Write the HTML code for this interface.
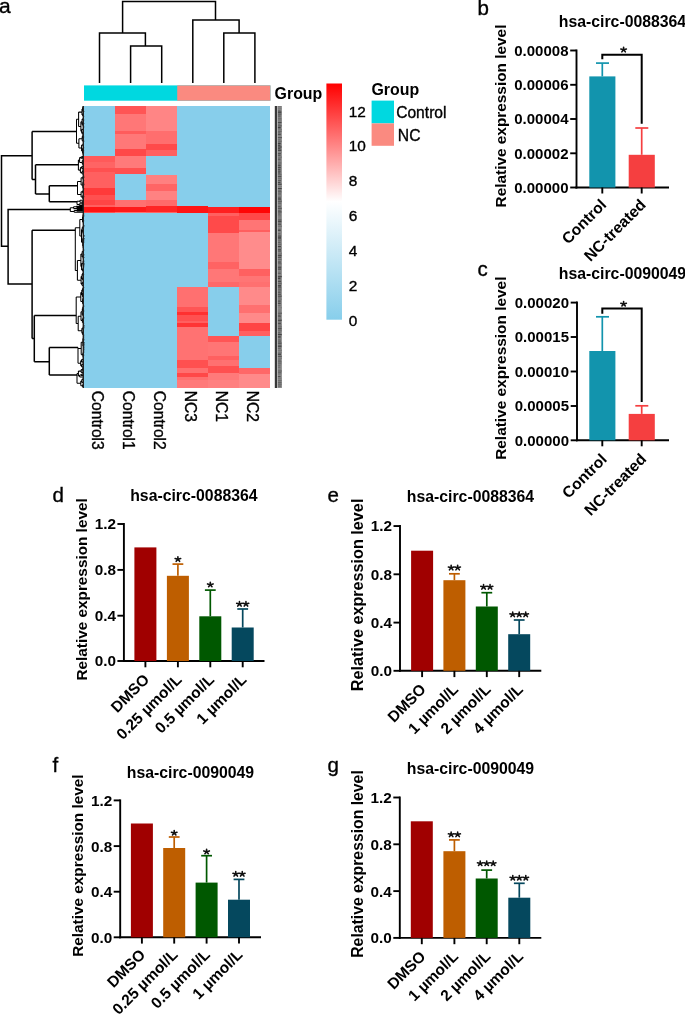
<!DOCTYPE html>
<html><head><meta charset="utf-8"><style>html,body{margin:0;padding:0;background:#fff;width:685px;height:1014px;overflow:hidden}svg{display:block;will-change:transform}svg text{font-family:"Liberation Sans", sans-serif}</style></head>
<body><svg width="685" height="1014" viewBox="0 0 685 1014">
<rect width="685" height="1014" fill="#fff"/>
<line x1="123.90" y1="523.00" x2="123.90" y2="662.00" stroke="#000" stroke-width="1.9" stroke-linecap="butt"/>
<line x1="122.90" y1="661.00" x2="264.50" y2="661.00" stroke="#000" stroke-width="1.9" stroke-linecap="butt"/>
<line x1="117.40" y1="524.00" x2="123.90" y2="524.00" stroke="#000" stroke-width="1.9" stroke-linecap="butt"/>
<text x="115.90" y="529.40" font-size="15.3" font-weight="bold" text-anchor="end" fill="#000">1.2</text>
<line x1="117.40" y1="569.90" x2="123.90" y2="569.90" stroke="#000" stroke-width="1.9" stroke-linecap="butt"/>
<text x="115.90" y="575.30" font-size="15.3" font-weight="bold" text-anchor="end" fill="#000">0.8</text>
<line x1="117.40" y1="615.70" x2="123.90" y2="615.70" stroke="#000" stroke-width="1.9" stroke-linecap="butt"/>
<text x="115.90" y="621.10" font-size="15.3" font-weight="bold" text-anchor="end" fill="#000">0.4</text>
<line x1="117.40" y1="661.00" x2="123.90" y2="661.00" stroke="#000" stroke-width="1.9" stroke-linecap="butt"/>
<text x="115.90" y="666.40" font-size="15.3" font-weight="bold" text-anchor="end" fill="#000">0.0</text>
<rect x="134.40" y="547.40" width="22.00" height="113.60" fill="#a00000"/>
<line x1="145.40" y1="661.00" x2="145.40" y2="667.30" stroke="#000" stroke-width="1.9" stroke-linecap="butt"/>
<text x="150.20" y="680.50" font-size="15.5" font-weight="bold" text-anchor="end" transform="rotate(-45 150.20 680.50)" fill="#000">DMSO</text>
<rect x="166.90" y="575.80" width="22.00" height="85.20" fill="#be5e00"/>
<line x1="177.90" y1="564.10" x2="177.90" y2="575.80" stroke="#be5e00" stroke-width="1.7" stroke-linecap="butt"/>
<line x1="172.50" y1="564.10" x2="183.30" y2="564.10" stroke="#be5e00" stroke-width="1.7" stroke-linecap="butt"/>
<path d="M177.90,559.30L177.90,556.83M177.90,559.30L180.66,558.54M177.90,559.30L179.60,561.29M177.90,559.30L176.20,561.29M177.90,559.30L175.14,558.54" stroke="#111" stroke-width="1.6" stroke-linecap="round" fill="none"/>
<line x1="177.90" y1="661.00" x2="177.90" y2="667.30" stroke="#000" stroke-width="1.9" stroke-linecap="butt"/>
<text x="182.70" y="680.50" font-size="15.5" font-weight="bold" text-anchor="end" transform="rotate(-45 182.70 680.50)" fill="#000">0.25 µmol/L</text>
<rect x="199.30" y="616.30" width="22.00" height="44.70" fill="#005800"/>
<line x1="210.30" y1="590.10" x2="210.30" y2="616.30" stroke="#005800" stroke-width="1.7" stroke-linecap="butt"/>
<line x1="204.90" y1="590.10" x2="215.70" y2="590.10" stroke="#005800" stroke-width="1.7" stroke-linecap="butt"/>
<path d="M210.30,584.70L210.30,582.24M210.30,584.70L213.06,583.94M210.30,584.70L212.00,586.69M210.30,584.70L208.60,586.69M210.30,584.70L207.54,583.94" stroke="#111" stroke-width="1.6" stroke-linecap="round" fill="none"/>
<line x1="210.30" y1="661.00" x2="210.30" y2="667.30" stroke="#000" stroke-width="1.9" stroke-linecap="butt"/>
<text x="215.10" y="680.50" font-size="15.5" font-weight="bold" text-anchor="end" transform="rotate(-45 215.10 680.50)" fill="#000">0.5 µmol/L</text>
<rect x="231.70" y="627.50" width="22.00" height="33.50" fill="#05485e"/>
<line x1="242.70" y1="609.00" x2="242.70" y2="627.50" stroke="#05485e" stroke-width="1.7" stroke-linecap="butt"/>
<line x1="237.30" y1="609.00" x2="248.10" y2="609.00" stroke="#05485e" stroke-width="1.7" stroke-linecap="butt"/>
<path d="M239.45,604.10L239.45,601.63M239.45,604.10L242.21,603.34M239.45,604.10L241.15,606.09M239.45,604.10L237.75,606.09M239.45,604.10L236.69,603.34" stroke="#111" stroke-width="1.6" stroke-linecap="round" fill="none"/>
<path d="M245.95,604.10L245.95,601.63M245.95,604.10L248.71,603.34M245.95,604.10L247.65,606.09M245.95,604.10L244.25,606.09M245.95,604.10L243.19,603.34" stroke="#111" stroke-width="1.6" stroke-linecap="round" fill="none"/>
<line x1="242.70" y1="661.00" x2="242.70" y2="667.30" stroke="#000" stroke-width="1.9" stroke-linecap="butt"/>
<text x="247.50" y="680.50" font-size="15.5" font-weight="bold" text-anchor="end" transform="rotate(-45 247.50 680.50)" fill="#000">1 µmol/L</text>
<text x="193.90" y="501.30" font-size="15.8" font-weight="bold" text-anchor="middle" fill="#000">hsa-circ-0088364</text>
<text x="52.50" y="502.30" font-size="20.5" font-weight="normal" text-anchor="start" fill="#000" stroke="#000" stroke-width="0.35">d</text>
<text x="86.90" y="589.40" font-size="15.32" font-weight="bold" text-anchor="middle" transform="rotate(-90 86.9 589.4)" fill="#000">Relative expression level</text>
<line x1="400.00" y1="525.05" x2="400.00" y2="671.80" stroke="#000" stroke-width="1.9" stroke-linecap="butt"/>
<line x1="399.00" y1="670.80" x2="541.30" y2="670.80" stroke="#000" stroke-width="1.9" stroke-linecap="butt"/>
<line x1="393.50" y1="526.05" x2="400.00" y2="526.05" stroke="#000" stroke-width="1.9" stroke-linecap="butt"/>
<text x="392.00" y="531.45" font-size="15.3" font-weight="bold" text-anchor="end" fill="#000">1.2</text>
<line x1="393.50" y1="574.30" x2="400.00" y2="574.30" stroke="#000" stroke-width="1.9" stroke-linecap="butt"/>
<text x="392.00" y="579.70" font-size="15.3" font-weight="bold" text-anchor="end" fill="#000">0.8</text>
<line x1="393.50" y1="622.60" x2="400.00" y2="622.60" stroke="#000" stroke-width="1.9" stroke-linecap="butt"/>
<text x="392.00" y="628.00" font-size="15.3" font-weight="bold" text-anchor="end" fill="#000">0.4</text>
<line x1="393.50" y1="670.80" x2="400.00" y2="670.80" stroke="#000" stroke-width="1.9" stroke-linecap="butt"/>
<text x="392.00" y="676.20" font-size="15.3" font-weight="bold" text-anchor="end" fill="#000">0.0</text>
<rect x="411.10" y="550.70" width="22.00" height="120.10" fill="#a00000"/>
<line x1="422.10" y1="670.80" x2="422.10" y2="677.10" stroke="#000" stroke-width="1.9" stroke-linecap="butt"/>
<text x="426.90" y="690.30" font-size="15.5" font-weight="bold" text-anchor="end" transform="rotate(-45 426.90 690.30)" fill="#000">DMSO</text>
<rect x="443.40" y="580.20" width="22.00" height="90.60" fill="#be5e00"/>
<line x1="454.40" y1="573.80" x2="454.40" y2="580.20" stroke="#be5e00" stroke-width="1.7" stroke-linecap="butt"/>
<line x1="449.00" y1="573.80" x2="459.80" y2="573.80" stroke="#be5e00" stroke-width="1.7" stroke-linecap="butt"/>
<path d="M451.15,567.80L451.15,565.33M451.15,567.80L453.91,567.04M451.15,567.80L452.85,569.79M451.15,567.80L449.45,569.79M451.15,567.80L448.39,567.04" stroke="#111" stroke-width="1.6" stroke-linecap="round" fill="none"/>
<path d="M457.65,567.80L457.65,565.33M457.65,567.80L460.41,567.04M457.65,567.80L459.35,569.79M457.65,567.80L455.95,569.79M457.65,567.80L454.89,567.04" stroke="#111" stroke-width="1.6" stroke-linecap="round" fill="none"/>
<line x1="454.40" y1="670.80" x2="454.40" y2="677.10" stroke="#000" stroke-width="1.9" stroke-linecap="butt"/>
<text x="459.20" y="690.30" font-size="15.5" font-weight="bold" text-anchor="end" transform="rotate(-45 459.20 690.30)" fill="#000">1 µmol/L</text>
<rect x="475.80" y="606.50" width="22.00" height="64.30" fill="#005800"/>
<line x1="486.80" y1="592.70" x2="486.80" y2="606.50" stroke="#005800" stroke-width="1.7" stroke-linecap="butt"/>
<line x1="481.40" y1="592.70" x2="492.20" y2="592.70" stroke="#005800" stroke-width="1.7" stroke-linecap="butt"/>
<path d="M483.55,587.10L483.55,584.63M483.55,587.10L486.31,586.34M483.55,587.10L485.25,589.09M483.55,587.10L481.85,589.09M483.55,587.10L480.79,586.34" stroke="#111" stroke-width="1.6" stroke-linecap="round" fill="none"/>
<path d="M490.05,587.10L490.05,584.63M490.05,587.10L492.81,586.34M490.05,587.10L491.75,589.09M490.05,587.10L488.35,589.09M490.05,587.10L487.29,586.34" stroke="#111" stroke-width="1.6" stroke-linecap="round" fill="none"/>
<line x1="486.80" y1="670.80" x2="486.80" y2="677.10" stroke="#000" stroke-width="1.9" stroke-linecap="butt"/>
<text x="491.60" y="690.30" font-size="15.5" font-weight="bold" text-anchor="end" transform="rotate(-45 491.60 690.30)" fill="#000">2 µmol/L</text>
<rect x="508.20" y="634.20" width="22.00" height="36.60" fill="#05485e"/>
<line x1="519.20" y1="620.00" x2="519.20" y2="634.20" stroke="#05485e" stroke-width="1.7" stroke-linecap="butt"/>
<line x1="513.80" y1="620.00" x2="524.60" y2="620.00" stroke="#05485e" stroke-width="1.7" stroke-linecap="butt"/>
<path d="M512.70,614.60L512.70,612.13M512.70,614.60L515.46,613.84M512.70,614.60L514.40,616.59M512.70,614.60L511.00,616.59M512.70,614.60L509.94,613.84" stroke="#111" stroke-width="1.6" stroke-linecap="round" fill="none"/>
<path d="M519.20,614.60L519.20,612.13M519.20,614.60L521.96,613.84M519.20,614.60L520.90,616.59M519.20,614.60L517.50,616.59M519.20,614.60L516.44,613.84" stroke="#111" stroke-width="1.6" stroke-linecap="round" fill="none"/>
<path d="M525.70,614.60L525.70,612.13M525.70,614.60L528.46,613.84M525.70,614.60L527.40,616.59M525.70,614.60L524.00,616.59M525.70,614.60L522.94,613.84" stroke="#111" stroke-width="1.6" stroke-linecap="round" fill="none"/>
<line x1="519.20" y1="670.80" x2="519.20" y2="677.10" stroke="#000" stroke-width="1.9" stroke-linecap="butt"/>
<text x="524.00" y="690.30" font-size="15.5" font-weight="bold" text-anchor="end" transform="rotate(-45 524.00 690.30)" fill="#000">4 µmol/L</text>
<text x="470.50" y="501.80" font-size="15.8" font-weight="bold" text-anchor="middle" fill="#000">hsa-circ-0088364</text>
<text x="327.50" y="501.50" font-size="20.5" font-weight="normal" text-anchor="start" fill="#000" stroke="#000" stroke-width="0.35">e</text>
<text x="362.80" y="594.90" font-size="16.2" font-weight="bold" text-anchor="middle" transform="rotate(-90 362.8 594.9)" fill="#000">Relative expression level</text>
<line x1="120.20" y1="799.40" x2="120.20" y2="938.30" stroke="#000" stroke-width="1.9" stroke-linecap="butt"/>
<line x1="119.20" y1="937.30" x2="261.00" y2="937.30" stroke="#000" stroke-width="1.9" stroke-linecap="butt"/>
<line x1="113.70" y1="800.40" x2="120.20" y2="800.40" stroke="#000" stroke-width="1.9" stroke-linecap="butt"/>
<text x="112.20" y="805.80" font-size="15.3" font-weight="bold" text-anchor="end" fill="#000">1.2</text>
<line x1="113.70" y1="846.10" x2="120.20" y2="846.10" stroke="#000" stroke-width="1.9" stroke-linecap="butt"/>
<text x="112.20" y="851.50" font-size="15.3" font-weight="bold" text-anchor="end" fill="#000">0.8</text>
<line x1="113.70" y1="891.70" x2="120.20" y2="891.70" stroke="#000" stroke-width="1.9" stroke-linecap="butt"/>
<text x="112.20" y="897.10" font-size="15.3" font-weight="bold" text-anchor="end" fill="#000">0.4</text>
<line x1="113.70" y1="937.30" x2="120.20" y2="937.30" stroke="#000" stroke-width="1.9" stroke-linecap="butt"/>
<text x="112.20" y="942.70" font-size="15.3" font-weight="bold" text-anchor="end" fill="#000">0.0</text>
<rect x="130.90" y="823.50" width="22.00" height="113.80" fill="#a00000"/>
<line x1="141.90" y1="937.30" x2="141.90" y2="943.60" stroke="#000" stroke-width="1.9" stroke-linecap="butt"/>
<text x="146.34" y="955.60" font-size="15.5" font-weight="bold" text-anchor="end" transform="rotate(-45 146.34 955.60)" fill="#000">DMSO</text>
<rect x="163.20" y="848.00" width="22.00" height="89.30" fill="#be5e00"/>
<line x1="174.20" y1="837.00" x2="174.20" y2="848.00" stroke="#be5e00" stroke-width="1.7" stroke-linecap="butt"/>
<line x1="168.80" y1="837.00" x2="179.60" y2="837.00" stroke="#be5e00" stroke-width="1.7" stroke-linecap="butt"/>
<path d="M174.20,833.00L174.20,830.53M174.20,833.00L176.96,832.24M174.20,833.00L175.90,834.99M174.20,833.00L172.50,834.99M174.20,833.00L171.44,832.24" stroke="#111" stroke-width="1.6" stroke-linecap="round" fill="none"/>
<line x1="174.20" y1="937.30" x2="174.20" y2="943.60" stroke="#000" stroke-width="1.9" stroke-linecap="butt"/>
<text x="178.64" y="955.60" font-size="15.5" font-weight="bold" text-anchor="end" transform="rotate(-45 178.64 955.60)" fill="#000">0.25 µmol/L</text>
<rect x="195.60" y="882.60" width="22.00" height="54.70" fill="#005800"/>
<line x1="206.60" y1="855.70" x2="206.60" y2="882.60" stroke="#005800" stroke-width="1.7" stroke-linecap="butt"/>
<line x1="201.20" y1="855.70" x2="212.00" y2="855.70" stroke="#005800" stroke-width="1.7" stroke-linecap="butt"/>
<path d="M206.60,851.70L206.60,849.24M206.60,851.70L209.36,850.94M206.60,851.70L208.30,853.69M206.60,851.70L204.90,853.69M206.60,851.70L203.84,850.94" stroke="#111" stroke-width="1.6" stroke-linecap="round" fill="none"/>
<line x1="206.60" y1="937.30" x2="206.60" y2="943.60" stroke="#000" stroke-width="1.9" stroke-linecap="butt"/>
<text x="211.04" y="955.60" font-size="15.5" font-weight="bold" text-anchor="end" transform="rotate(-45 211.04 955.60)" fill="#000">0.5 µmol/L</text>
<rect x="228.00" y="899.70" width="22.00" height="37.60" fill="#05485e"/>
<line x1="239.00" y1="879.40" x2="239.00" y2="899.70" stroke="#05485e" stroke-width="1.7" stroke-linecap="butt"/>
<line x1="233.60" y1="879.40" x2="244.40" y2="879.40" stroke="#05485e" stroke-width="1.7" stroke-linecap="butt"/>
<path d="M235.75,874.10L235.75,871.63M235.75,874.10L238.51,873.34M235.75,874.10L237.45,876.09M235.75,874.10L234.05,876.09M235.75,874.10L232.99,873.34" stroke="#111" stroke-width="1.6" stroke-linecap="round" fill="none"/>
<path d="M242.25,874.10L242.25,871.63M242.25,874.10L245.01,873.34M242.25,874.10L243.95,876.09M242.25,874.10L240.55,876.09M242.25,874.10L239.49,873.34" stroke="#111" stroke-width="1.6" stroke-linecap="round" fill="none"/>
<line x1="239.00" y1="937.30" x2="239.00" y2="943.60" stroke="#000" stroke-width="1.9" stroke-linecap="butt"/>
<text x="243.44" y="955.60" font-size="15.5" font-weight="bold" text-anchor="end" transform="rotate(-45 243.44 955.60)" fill="#000">1 µmol/L</text>
<text x="190.50" y="777.50" font-size="15.8" font-weight="bold" text-anchor="middle" fill="#000">hsa-circ-0090049</text>
<text x="52.50" y="771.70" font-size="20.5" font-weight="normal" text-anchor="start" fill="#000" stroke="#000" stroke-width="0.35">f</text>
<text x="83.20" y="865.60" font-size="15.34" font-weight="bold" text-anchor="middle" transform="rotate(-90 83.2 865.6)" fill="#000">Relative expression level</text>
<line x1="399.80" y1="796.50" x2="399.80" y2="938.90" stroke="#000" stroke-width="1.9" stroke-linecap="butt"/>
<line x1="398.80" y1="937.90" x2="541.30" y2="937.90" stroke="#000" stroke-width="1.9" stroke-linecap="butt"/>
<line x1="393.30" y1="797.50" x2="399.80" y2="797.50" stroke="#000" stroke-width="1.9" stroke-linecap="butt"/>
<text x="391.80" y="802.90" font-size="15.3" font-weight="bold" text-anchor="end" fill="#000">1.2</text>
<line x1="393.30" y1="844.30" x2="399.80" y2="844.30" stroke="#000" stroke-width="1.9" stroke-linecap="butt"/>
<text x="391.80" y="849.70" font-size="15.3" font-weight="bold" text-anchor="end" fill="#000">0.8</text>
<line x1="393.30" y1="891.10" x2="399.80" y2="891.10" stroke="#000" stroke-width="1.9" stroke-linecap="butt"/>
<text x="391.80" y="896.50" font-size="15.3" font-weight="bold" text-anchor="end" fill="#000">0.4</text>
<line x1="393.30" y1="937.90" x2="399.80" y2="937.90" stroke="#000" stroke-width="1.9" stroke-linecap="butt"/>
<text x="391.80" y="943.30" font-size="15.3" font-weight="bold" text-anchor="end" fill="#000">0.0</text>
<rect x="410.80" y="821.30" width="22.00" height="116.60" fill="#a00000"/>
<line x1="421.80" y1="937.90" x2="421.80" y2="944.20" stroke="#000" stroke-width="1.9" stroke-linecap="butt"/>
<text x="426.60" y="957.40" font-size="15.5" font-weight="bold" text-anchor="end" transform="rotate(-45 426.60 957.40)" fill="#000">DMSO</text>
<rect x="443.40" y="851.20" width="22.00" height="86.70" fill="#be5e00"/>
<line x1="454.40" y1="839.90" x2="454.40" y2="851.20" stroke="#be5e00" stroke-width="1.7" stroke-linecap="butt"/>
<line x1="449.00" y1="839.90" x2="459.80" y2="839.90" stroke="#be5e00" stroke-width="1.7" stroke-linecap="butt"/>
<path d="M451.15,834.60L451.15,832.13M451.15,834.60L453.91,833.84M451.15,834.60L452.85,836.59M451.15,834.60L449.45,836.59M451.15,834.60L448.39,833.84" stroke="#111" stroke-width="1.6" stroke-linecap="round" fill="none"/>
<path d="M457.65,834.60L457.65,832.13M457.65,834.60L460.41,833.84M457.65,834.60L459.35,836.59M457.65,834.60L455.95,836.59M457.65,834.60L454.89,833.84" stroke="#111" stroke-width="1.6" stroke-linecap="round" fill="none"/>
<line x1="454.40" y1="937.90" x2="454.40" y2="944.20" stroke="#000" stroke-width="1.9" stroke-linecap="butt"/>
<text x="459.20" y="957.40" font-size="15.5" font-weight="bold" text-anchor="end" transform="rotate(-45 459.20 957.40)" fill="#000">1 µmol/L</text>
<rect x="475.70" y="878.50" width="22.00" height="59.40" fill="#005800"/>
<line x1="486.70" y1="870.10" x2="486.70" y2="878.50" stroke="#005800" stroke-width="1.7" stroke-linecap="butt"/>
<line x1="481.30" y1="870.10" x2="492.10" y2="870.10" stroke="#005800" stroke-width="1.7" stroke-linecap="butt"/>
<path d="M480.20,863.50L480.20,861.03M480.20,863.50L482.96,862.74M480.20,863.50L481.90,865.49M480.20,863.50L478.50,865.49M480.20,863.50L477.44,862.74" stroke="#111" stroke-width="1.6" stroke-linecap="round" fill="none"/>
<path d="M486.70,863.50L486.70,861.03M486.70,863.50L489.46,862.74M486.70,863.50L488.40,865.49M486.70,863.50L485.00,865.49M486.70,863.50L483.94,862.74" stroke="#111" stroke-width="1.6" stroke-linecap="round" fill="none"/>
<path d="M493.20,863.50L493.20,861.03M493.20,863.50L495.96,862.74M493.20,863.50L494.90,865.49M493.20,863.50L491.50,865.49M493.20,863.50L490.44,862.74" stroke="#111" stroke-width="1.6" stroke-linecap="round" fill="none"/>
<line x1="486.70" y1="937.90" x2="486.70" y2="944.20" stroke="#000" stroke-width="1.9" stroke-linecap="butt"/>
<text x="491.50" y="957.40" font-size="15.5" font-weight="bold" text-anchor="end" transform="rotate(-45 491.50 957.40)" fill="#000">2 µmol/L</text>
<rect x="508.30" y="897.70" width="22.00" height="40.20" fill="#05485e"/>
<line x1="519.30" y1="883.30" x2="519.30" y2="897.70" stroke="#05485e" stroke-width="1.7" stroke-linecap="butt"/>
<line x1="513.90" y1="883.30" x2="524.70" y2="883.30" stroke="#05485e" stroke-width="1.7" stroke-linecap="butt"/>
<path d="M512.80,878.00L512.80,875.53M512.80,878.00L515.56,877.24M512.80,878.00L514.50,879.99M512.80,878.00L511.10,879.99M512.80,878.00L510.04,877.24" stroke="#111" stroke-width="1.6" stroke-linecap="round" fill="none"/>
<path d="M519.30,878.00L519.30,875.53M519.30,878.00L522.06,877.24M519.30,878.00L521.00,879.99M519.30,878.00L517.60,879.99M519.30,878.00L516.54,877.24" stroke="#111" stroke-width="1.6" stroke-linecap="round" fill="none"/>
<path d="M525.80,878.00L525.80,875.53M525.80,878.00L528.56,877.24M525.80,878.00L527.50,879.99M525.80,878.00L524.10,879.99M525.80,878.00L523.04,877.24" stroke="#111" stroke-width="1.6" stroke-linecap="round" fill="none"/>
<line x1="519.30" y1="937.90" x2="519.30" y2="944.20" stroke="#000" stroke-width="1.9" stroke-linecap="butt"/>
<text x="524.10" y="957.40" font-size="15.5" font-weight="bold" text-anchor="end" transform="rotate(-45 524.10 957.40)" fill="#000">4 µmol/L</text>
<text x="470.50" y="774.30" font-size="15.8" font-weight="bold" text-anchor="middle" fill="#000">hsa-circ-0090049</text>
<text x="327.50" y="772.00" font-size="20.5" font-weight="normal" text-anchor="start" fill="#000" stroke="#000" stroke-width="0.35">g</text>
<text x="363.20" y="864.00" font-size="15.77" font-weight="bold" text-anchor="middle" transform="rotate(-90 363.2 864)" fill="#000">Relative expression level</text>
<line x1="576.50" y1="49.50" x2="576.50" y2="188.50" stroke="#000" stroke-width="1.9" stroke-linecap="butt"/>
<line x1="575.50" y1="187.50" x2="669.00" y2="187.50" stroke="#000" stroke-width="1.9" stroke-linecap="butt"/>
<line x1="570.20" y1="50.50" x2="576.50" y2="50.50" stroke="#000" stroke-width="1.9" stroke-linecap="butt"/>
<text x="568.50" y="55.70" font-size="15" font-weight="bold" text-anchor="end" fill="#000">0.00008</text>
<line x1="570.20" y1="84.80" x2="576.50" y2="84.80" stroke="#000" stroke-width="1.9" stroke-linecap="butt"/>
<text x="568.50" y="90.00" font-size="15" font-weight="bold" text-anchor="end" fill="#000">0.00006</text>
<line x1="570.20" y1="119.00" x2="576.50" y2="119.00" stroke="#000" stroke-width="1.9" stroke-linecap="butt"/>
<text x="568.50" y="124.20" font-size="15" font-weight="bold" text-anchor="end" fill="#000">0.00004</text>
<line x1="570.20" y1="153.30" x2="576.50" y2="153.30" stroke="#000" stroke-width="1.9" stroke-linecap="butt"/>
<text x="568.50" y="158.50" font-size="15" font-weight="bold" text-anchor="end" fill="#000">0.00002</text>
<line x1="570.20" y1="187.50" x2="576.50" y2="187.50" stroke="#000" stroke-width="1.9" stroke-linecap="butt"/>
<text x="568.50" y="192.70" font-size="15" font-weight="bold" text-anchor="end" fill="#000">0.00000</text>
<rect x="589.30" y="76.40" width="26.10" height="111.10" fill="#1294ad"/>
<rect x="628.70" y="154.80" width="26.10" height="32.70" fill="#f53f40"/>
<line x1="602.30" y1="63.10" x2="602.30" y2="76.40" stroke="#1294ad" stroke-width="1.7" stroke-linecap="butt"/>
<line x1="596.00" y1="63.10" x2="609.00" y2="63.10" stroke="#1294ad" stroke-width="1.7" stroke-linecap="butt"/>
<line x1="641.70" y1="128.00" x2="641.70" y2="154.80" stroke="#f53f40" stroke-width="1.7" stroke-linecap="butt"/>
<line x1="635.30" y1="128.00" x2="648.30" y2="128.00" stroke="#f53f40" stroke-width="1.7" stroke-linecap="butt"/>
<path d="M602.3,59.3 V54.8 H641.7 V123.7" stroke="#000" stroke-width="2" fill="none"/>
<path d="M623.60,49.80L623.60,47.33M623.60,49.80L626.36,49.04M623.60,49.80L625.30,51.79M623.60,49.80L621.90,51.79M623.60,49.80L620.84,49.04" stroke="#111" stroke-width="1.6" stroke-linecap="round" fill="none"/>
<line x1="602.30" y1="187.50" x2="602.30" y2="193.50" stroke="#000" stroke-width="1.9" stroke-linecap="butt"/>
<line x1="641.70" y1="187.50" x2="641.70" y2="193.50" stroke="#000" stroke-width="1.9" stroke-linecap="butt"/>
<text x="607.35" y="205.80" font-size="15.6" font-weight="bold" text-anchor="end" transform="rotate(-45 607.3499999999999 205.8)" fill="#000">Control</text>
<text x="646.75" y="205.80" font-size="15.6" font-weight="bold" text-anchor="end" transform="rotate(-45 646.75 205.8)" fill="#000">NC-treated</text>
<text x="622.50" y="26.70" font-size="15.8" font-weight="bold" text-anchor="middle" fill="#000">hsa-circ-0088364</text>
<text x="477.50" y="14.70" font-size="20.5" font-weight="normal" text-anchor="start" fill="#000" stroke="#000" stroke-width="0.35">b</text>
<text x="505.70" y="116.00" font-size="15.38" font-weight="bold" text-anchor="middle" transform="rotate(-90 505.7 116)" fill="#000">Relative expression level</text>
<line x1="577.00" y1="301.60" x2="577.00" y2="441.30" stroke="#000" stroke-width="1.9" stroke-linecap="butt"/>
<line x1="576.00" y1="440.30" x2="669.00" y2="440.30" stroke="#000" stroke-width="1.9" stroke-linecap="butt"/>
<line x1="570.70" y1="302.60" x2="577.00" y2="302.60" stroke="#000" stroke-width="1.9" stroke-linecap="butt"/>
<text x="569.00" y="307.80" font-size="15" font-weight="bold" text-anchor="end" fill="#000">0.00020</text>
<line x1="570.70" y1="337.00" x2="577.00" y2="337.00" stroke="#000" stroke-width="1.9" stroke-linecap="butt"/>
<text x="569.00" y="342.20" font-size="15" font-weight="bold" text-anchor="end" fill="#000">0.00015</text>
<line x1="570.70" y1="371.50" x2="577.00" y2="371.50" stroke="#000" stroke-width="1.9" stroke-linecap="butt"/>
<text x="569.00" y="376.70" font-size="15" font-weight="bold" text-anchor="end" fill="#000">0.00010</text>
<line x1="570.70" y1="406.00" x2="577.00" y2="406.00" stroke="#000" stroke-width="1.9" stroke-linecap="butt"/>
<text x="569.00" y="411.20" font-size="15" font-weight="bold" text-anchor="end" fill="#000">0.00005</text>
<line x1="570.70" y1="440.30" x2="577.00" y2="440.30" stroke="#000" stroke-width="1.9" stroke-linecap="butt"/>
<text x="569.00" y="445.50" font-size="15" font-weight="bold" text-anchor="end" fill="#000">0.00000</text>
<rect x="589.30" y="351.00" width="26.10" height="89.30" fill="#1294ad"/>
<rect x="628.70" y="413.90" width="26.10" height="26.40" fill="#f53f40"/>
<line x1="602.30" y1="316.80" x2="602.30" y2="351.00" stroke="#1294ad" stroke-width="1.7" stroke-linecap="butt"/>
<line x1="596.00" y1="316.80" x2="609.00" y2="316.80" stroke="#1294ad" stroke-width="1.7" stroke-linecap="butt"/>
<line x1="641.70" y1="405.80" x2="641.70" y2="413.90" stroke="#f53f40" stroke-width="1.7" stroke-linecap="butt"/>
<line x1="635.30" y1="405.80" x2="648.30" y2="405.80" stroke="#f53f40" stroke-width="1.7" stroke-linecap="butt"/>
<path d="M602.3,313.7 V308.6 H641.7 V402" stroke="#000" stroke-width="2" fill="none"/>
<path d="M623.60,304.00L623.60,301.54M623.60,304.00L626.36,303.24M623.60,304.00L625.30,305.99M623.60,304.00L621.90,305.99M623.60,304.00L620.84,303.24" stroke="#111" stroke-width="1.6" stroke-linecap="round" fill="none"/>
<line x1="602.30" y1="440.30" x2="602.30" y2="446.30" stroke="#000" stroke-width="1.9" stroke-linecap="butt"/>
<line x1="641.70" y1="440.30" x2="641.70" y2="446.30" stroke="#000" stroke-width="1.9" stroke-linecap="butt"/>
<text x="607.80" y="460.10" font-size="15.6" font-weight="bold" text-anchor="end" transform="rotate(-45 607.8 460.1)" fill="#000">Control</text>
<text x="647.20" y="460.10" font-size="15.6" font-weight="bold" text-anchor="end" transform="rotate(-45 647.2 460.1)" fill="#000">NC-treated</text>
<text x="622.50" y="279.20" font-size="15.8" font-weight="bold" text-anchor="middle" fill="#000">hsa-circ-0090049</text>
<text x="477.50" y="275.50" font-size="20.5" font-weight="normal" text-anchor="start" fill="#000" stroke="#000" stroke-width="0.35">c</text>
<text x="505.90" y="368.20" font-size="15.42" font-weight="bold" text-anchor="middle" transform="rotate(-90 505.9 368.2)" fill="#000">Relative expression level</text>
<g shape-rendering="crispEdges">
<rect x="84.00" y="106.00" width="186.42" height="282.00" fill="#87ceeb"/>
<rect x="84.00" y="156.00" width="31.00" height="6.00" fill="#ff5a5a"/>
<rect x="84.00" y="162.00" width="31.00" height="6.00" fill="#ff6464"/>
<rect x="84.00" y="168.00" width="31.00" height="4.00" fill="#ff5050"/>
<rect x="84.00" y="172.00" width="31.00" height="16.00" fill="#ff6060"/>
<rect x="84.00" y="188.00" width="31.00" height="7.00" fill="#ff3a3a"/>
<rect x="84.00" y="195.00" width="31.00" height="5.00" fill="#ff5050"/>
<rect x="84.00" y="200.00" width="31.00" height="5.00" fill="#ff4545"/>
<rect x="84.00" y="205.00" width="31.00" height="2.00" fill="#ff6060"/>
<rect x="84.00" y="207.00" width="31.00" height="5.00" fill="#ff1515"/>
<rect x="84.00" y="212.00" width="31.00" height="1.00" fill="#ff5050"/>
<rect x="115.00" y="106.00" width="31.00" height="8.00" fill="#ff5555"/>
<rect x="115.00" y="114.00" width="31.00" height="17.00" fill="#ff7777"/>
<rect x="115.00" y="131.00" width="31.00" height="3.00" fill="#ff5c5c"/>
<rect x="115.00" y="134.00" width="31.00" height="15.00" fill="#ff7878"/>
<rect x="115.00" y="149.00" width="31.00" height="7.00" fill="#ff4848"/>
<rect x="115.00" y="156.00" width="31.00" height="12.00" fill="#ff7a7a"/>
<rect x="115.00" y="168.00" width="31.00" height="6.00" fill="#ff5050"/>
<rect x="115.00" y="200.00" width="31.00" height="7.00" fill="#ff7070"/>
<rect x="115.00" y="207.00" width="31.00" height="5.00" fill="#ff1a1a"/>
<rect x="115.00" y="212.00" width="31.00" height="1.00" fill="#ff7070"/>
<rect x="146.00" y="106.00" width="31.00" height="25.00" fill="#ff8585"/>
<rect x="146.00" y="131.00" width="31.00" height="13.00" fill="#ff6e6e"/>
<rect x="146.00" y="144.00" width="31.00" height="6.00" fill="#ff4a4a"/>
<rect x="146.00" y="150.00" width="31.00" height="6.00" fill="#ff6060"/>
<rect x="146.00" y="175.00" width="31.00" height="9.00" fill="#ff8080"/>
<rect x="146.00" y="184.00" width="31.00" height="7.00" fill="#ff6565"/>
<rect x="146.00" y="191.00" width="31.00" height="9.00" fill="#ff8282"/>
<rect x="146.00" y="200.00" width="31.00" height="6.00" fill="#ff6a6a"/>
<rect x="146.00" y="206.00" width="31.00" height="6.00" fill="#ff2525"/>
<rect x="146.00" y="212.00" width="31.00" height="1.00" fill="#ff6565"/>
<rect x="177.00" y="206.00" width="31.00" height="7.00" fill="#ff1515"/>
<rect x="177.00" y="287.00" width="31.00" height="20.00" fill="#ff7070"/>
<rect x="177.00" y="307.00" width="31.00" height="5.00" fill="#ff5555"/>
<rect x="177.00" y="312.00" width="31.00" height="3.00" fill="#ff3030"/>
<rect x="177.00" y="315.00" width="31.00" height="6.00" fill="#ff5050"/>
<rect x="177.00" y="321.00" width="31.00" height="2.00" fill="#ff6060"/>
<rect x="177.00" y="323.00" width="31.00" height="4.00" fill="#ff3535"/>
<rect x="177.00" y="327.00" width="31.00" height="33.00" fill="#ff7272"/>
<rect x="177.00" y="360.00" width="31.00" height="8.00" fill="#ff5050"/>
<rect x="177.00" y="368.00" width="31.00" height="5.00" fill="#ff7070"/>
<rect x="177.00" y="373.00" width="31.00" height="4.00" fill="#ff4848"/>
<rect x="177.00" y="377.00" width="31.00" height="3.00" fill="#ff7070"/>
<rect x="177.00" y="380.00" width="31.00" height="8.00" fill="#ff7a7a"/>
<rect x="208.00" y="207.00" width="31.00" height="6.00" fill="#ff2020"/>
<rect x="208.00" y="213.00" width="31.00" height="3.00" fill="#ff6060"/>
<rect x="208.00" y="216.00" width="31.00" height="17.00" fill="#ff4a4a"/>
<rect x="208.00" y="233.00" width="31.00" height="29.00" fill="#ff7777"/>
<rect x="208.00" y="262.00" width="31.00" height="7.00" fill="#ff6363"/>
<rect x="208.00" y="269.00" width="31.00" height="13.00" fill="#ff7777"/>
<rect x="208.00" y="282.00" width="31.00" height="5.00" fill="#ff6868"/>
<rect x="208.00" y="336.00" width="31.00" height="6.00" fill="#ff5555"/>
<rect x="208.00" y="342.00" width="31.00" height="14.00" fill="#ff7575"/>
<rect x="208.00" y="356.00" width="31.00" height="4.00" fill="#ff6060"/>
<rect x="208.00" y="360.00" width="31.00" height="6.00" fill="#ff7070"/>
<rect x="208.00" y="366.00" width="31.00" height="7.00" fill="#ff5050"/>
<rect x="208.00" y="373.00" width="31.00" height="7.00" fill="#ff7a7a"/>
<rect x="208.00" y="380.00" width="31.00" height="8.00" fill="#ff8080"/>
<rect x="239.00" y="207.00" width="31.00" height="6.00" fill="#ff0505"/>
<rect x="239.00" y="213.00" width="31.00" height="7.00" fill="#ff4848"/>
<rect x="239.00" y="220.00" width="31.00" height="10.00" fill="#ff7575"/>
<rect x="239.00" y="230.00" width="31.00" height="2.00" fill="#ff5f5f"/>
<rect x="239.00" y="232.00" width="31.00" height="37.00" fill="#ff8c8c"/>
<rect x="239.00" y="269.00" width="31.00" height="7.00" fill="#ff6060"/>
<rect x="239.00" y="276.00" width="31.00" height="6.00" fill="#ff7575"/>
<rect x="239.00" y="282.00" width="31.00" height="5.00" fill="#ff7070"/>
<rect x="239.00" y="287.00" width="31.00" height="18.00" fill="#ff8a8a"/>
<rect x="239.00" y="305.00" width="31.00" height="8.00" fill="#ff7070"/>
<rect x="239.00" y="313.00" width="31.00" height="10.00" fill="#ff8a8a"/>
<rect x="239.00" y="323.00" width="31.00" height="8.00" fill="#ff4545"/>
<rect x="239.00" y="331.00" width="31.00" height="5.00" fill="#ff6060"/>
<rect x="239.00" y="368.00" width="31.00" height="6.00" fill="#ff6868"/>
<rect x="239.00" y="374.00" width="31.00" height="14.00" fill="#ff8a8a"/>
</g>
<rect x="84.00" y="85.40" width="186.42" height="15.30" fill="#00d8e0"/>
<rect x="177.21" y="85.40" width="93.21" height="15.30" fill="#fa8a80"/>
<text x="274.60" y="98.60" font-size="15.9" font-weight="bold" text-anchor="start" fill="#000">Group</text>
<rect x="274.80" y="106.00" width="2.30" height="282.00" fill="#383838"/>
<rect x="277.10" y="106.00" width="0.80" height="282.00" fill="#b0b0b0"/>
<rect x="277.90" y="106.00" width="4.00" height="282.00" fill="#8a8a8a"/>
<rect x="277.9" y="106.0" width="3.2" height="1.2" fill="#7b7b7b"/>
<rect x="277.9" y="108.1" width="3.4" height="1.0" fill="#7c7c7c"/>
<rect x="277.9" y="109.9" width="2.7" height="0.9" fill="#666666"/>
<rect x="277.9" y="111.4" width="3.4" height="1.5" fill="#454545"/>
<rect x="277.9" y="113.5" width="3.4" height="1.2" fill="#545454"/>
<rect x="277.9" y="115.6" width="2.8" height="0.9" fill="#444444"/>
<rect x="277.9" y="116.9" width="3.0" height="0.8" fill="#7b7b7b"/>
<rect x="277.9" y="118.4" width="3.5" height="1.0" fill="#5d5d5d"/>
<rect x="277.9" y="120.0" width="3.5" height="1.3" fill="#7a7a7a"/>
<rect x="277.9" y="121.9" width="3.6" height="1.2" fill="#4a4a4a"/>
<rect x="277.9" y="123.7" width="2.5" height="1.0" fill="#646464"/>
<rect x="277.9" y="125.4" width="3.8" height="0.9" fill="#4d4d4d"/>
<rect x="277.9" y="126.8" width="2.8" height="1.6" fill="#404040"/>
<rect x="277.9" y="129.3" width="4.0" height="0.8" fill="#707070"/>
<rect x="277.9" y="130.8" width="3.7" height="0.9" fill="#595959"/>
<rect x="277.9" y="132.1" width="2.5" height="0.9" fill="#6a6a6a"/>
<rect x="277.9" y="133.6" width="2.9" height="1.5" fill="#515151"/>
<rect x="277.9" y="135.5" width="2.8" height="0.8" fill="#7e7e7e"/>
<rect x="277.9" y="137.0" width="4.0" height="1.2" fill="#585858"/>
<rect x="277.9" y="139.0" width="2.7" height="1.1" fill="#717171"/>
<rect x="277.9" y="140.7" width="3.8" height="1.0" fill="#626262"/>
<rect x="277.9" y="142.7" width="2.8" height="1.3" fill="#424242"/>
<rect x="277.9" y="144.5" width="2.6" height="1.5" fill="#4c4c4c"/>
<rect x="277.9" y="146.4" width="3.7" height="1.2" fill="#414141"/>
<rect x="277.9" y="148.1" width="2.6" height="1.0" fill="#494949"/>
<rect x="277.9" y="149.6" width="3.4" height="1.3" fill="#414141"/>
<rect x="277.9" y="151.5" width="3.7" height="1.2" fill="#7d7d7d"/>
<rect x="277.9" y="153.0" width="3.0" height="1.1" fill="#535353"/>
<rect x="277.9" y="154.6" width="2.7" height="1.3" fill="#585858"/>
<rect x="277.9" y="156.6" width="3.8" height="1.2" fill="#717171"/>
<rect x="277.9" y="158.6" width="2.7" height="1.1" fill="#4d4d4d"/>
<rect x="277.9" y="160.4" width="2.9" height="1.0" fill="#727272"/>
<rect x="277.9" y="162.3" width="3.3" height="1.3" fill="#656565"/>
<rect x="277.9" y="164.5" width="2.8" height="1.6" fill="#505050"/>
<rect x="277.9" y="166.8" width="2.9" height="1.5" fill="#494949"/>
<rect x="277.9" y="169.2" width="2.6" height="1.0" fill="#424242"/>
<rect x="277.9" y="170.7" width="2.8" height="1.0" fill="#454545"/>
<rect x="277.9" y="172.3" width="2.6" height="1.3" fill="#505050"/>
<rect x="277.9" y="174.0" width="3.5" height="1.2" fill="#6a6a6a"/>
<rect x="277.9" y="175.9" width="3.4" height="1.3" fill="#515151"/>
<rect x="277.9" y="178.1" width="3.6" height="1.2" fill="#6d6d6d"/>
<rect x="277.9" y="180.3" width="3.2" height="0.8" fill="#494949"/>
<rect x="277.9" y="181.9" width="2.6" height="1.1" fill="#494949"/>
<rect x="277.9" y="183.6" width="3.7" height="1.4" fill="#505050"/>
<rect x="277.9" y="186.0" width="3.9" height="1.1" fill="#7c7c7c"/>
<rect x="277.9" y="188.0" width="3.8" height="1.1" fill="#434343"/>
<rect x="277.9" y="189.8" width="3.1" height="1.3" fill="#707070"/>
<rect x="277.9" y="191.4" width="3.5" height="0.9" fill="#4b4b4b"/>
<rect x="277.9" y="193.2" width="3.1" height="1.5" fill="#6a6a6a"/>
<rect x="277.9" y="195.6" width="3.2" height="1.3" fill="#787878"/>
<rect x="277.9" y="197.5" width="3.0" height="1.2" fill="#434343"/>
<rect x="277.9" y="199.1" width="3.2" height="0.8" fill="#4e4e4e"/>
<rect x="277.9" y="200.6" width="3.8" height="1.5" fill="#606060"/>
<rect x="277.9" y="202.7" width="3.3" height="0.9" fill="#595959"/>
<rect x="277.9" y="204.5" width="3.2" height="1.1" fill="#787878"/>
<rect x="277.9" y="206.0" width="2.8" height="1.1" fill="#606060"/>
<rect x="277.9" y="207.7" width="3.8" height="1.4" fill="#595959"/>
<rect x="277.9" y="209.8" width="2.8" height="1.3" fill="#686868"/>
<rect x="277.9" y="211.4" width="3.6" height="1.1" fill="#454545"/>
<rect x="277.9" y="213.5" width="2.7" height="1.0" fill="#555555"/>
<rect x="277.9" y="215.1" width="3.1" height="1.5" fill="#747474"/>
<rect x="277.9" y="217.3" width="3.0" height="1.3" fill="#797979"/>
<rect x="277.9" y="219.5" width="3.5" height="1.0" fill="#454545"/>
<rect x="277.9" y="221.1" width="3.5" height="1.1" fill="#424242"/>
<rect x="277.9" y="222.7" width="2.9" height="1.0" fill="#626262"/>
<rect x="277.9" y="224.1" width="3.2" height="0.8" fill="#4e4e4e"/>
<rect x="277.9" y="225.6" width="3.9" height="1.3" fill="#6f6f6f"/>
<rect x="277.9" y="227.8" width="2.9" height="1.0" fill="#7c7c7c"/>
<rect x="277.9" y="229.5" width="2.8" height="1.4" fill="#444444"/>
<rect x="277.9" y="231.4" width="3.4" height="1.1" fill="#808080"/>
<rect x="277.9" y="233.3" width="2.6" height="1.1" fill="#5c5c5c"/>
<rect x="277.9" y="235.4" width="3.2" height="1.4" fill="#505050"/>
<rect x="277.9" y="237.2" width="3.1" height="1.5" fill="#404040"/>
<rect x="277.9" y="239.4" width="3.2" height="1.5" fill="#6b6b6b"/>
<rect x="277.9" y="241.7" width="2.8" height="1.0" fill="#4f4f4f"/>
<rect x="277.9" y="243.6" width="3.3" height="1.6" fill="#676767"/>
<rect x="277.9" y="246.0" width="3.0" height="1.1" fill="#424242"/>
<rect x="277.9" y="247.4" width="3.7" height="1.2" fill="#757575"/>
<rect x="277.9" y="249.2" width="3.1" height="0.8" fill="#484848"/>
<rect x="277.9" y="250.4" width="3.2" height="1.2" fill="#515151"/>
<rect x="277.9" y="252.6" width="3.9" height="1.5" fill="#787878"/>
<rect x="277.9" y="254.7" width="3.6" height="1.6" fill="#4b4b4b"/>
<rect x="277.9" y="256.9" width="3.3" height="1.2" fill="#555555"/>
<rect x="277.9" y="259.0" width="3.5" height="1.2" fill="#676767"/>
<rect x="277.9" y="261.3" width="3.0" height="1.5" fill="#5a5a5a"/>
<rect x="277.9" y="263.2" width="3.4" height="1.2" fill="#626262"/>
<rect x="277.9" y="264.8" width="2.5" height="1.2" fill="#808080"/>
<rect x="277.9" y="266.6" width="3.3" height="1.2" fill="#454545"/>
<rect x="277.9" y="268.4" width="3.2" height="1.4" fill="#4f4f4f"/>
<rect x="277.9" y="270.7" width="3.1" height="0.9" fill="#7a7a7a"/>
<rect x="277.9" y="272.5" width="2.9" height="1.5" fill="#626262"/>
<rect x="277.9" y="274.7" width="3.3" height="1.1" fill="#7c7c7c"/>
<rect x="277.9" y="276.1" width="3.9" height="1.1" fill="#434343"/>
<rect x="277.9" y="277.6" width="2.6" height="1.4" fill="#424242"/>
<rect x="277.9" y="279.5" width="3.0" height="0.8" fill="#646464"/>
<rect x="277.9" y="280.8" width="3.2" height="1.3" fill="#4d4d4d"/>
<rect x="277.9" y="282.8" width="3.6" height="1.5" fill="#606060"/>
<rect x="277.9" y="285.1" width="3.1" height="1.5" fill="#424242"/>
<rect x="277.9" y="287.2" width="3.3" height="1.2" fill="#545454"/>
<rect x="277.9" y="289.3" width="3.3" height="1.2" fill="#5b5b5b"/>
<rect x="277.9" y="291.5" width="2.8" height="1.3" fill="#515151"/>
<rect x="277.9" y="293.6" width="3.0" height="1.4" fill="#575757"/>
<rect x="277.9" y="295.5" width="3.7" height="1.5" fill="#5b5b5b"/>
<rect x="277.9" y="297.5" width="2.7" height="0.9" fill="#5e5e5e"/>
<rect x="277.9" y="298.7" width="3.7" height="1.1" fill="#777777"/>
<rect x="277.9" y="300.4" width="2.8" height="1.4" fill="#505050"/>
<rect x="277.9" y="302.6" width="2.8" height="1.4" fill="#4c4c4c"/>
<rect x="277.9" y="304.8" width="2.7" height="1.5" fill="#6e6e6e"/>
<rect x="277.9" y="307.0" width="4.0" height="1.4" fill="#808080"/>
<rect x="277.9" y="309.3" width="2.7" height="1.4" fill="#7d7d7d"/>
<rect x="277.9" y="311.1" width="2.7" height="1.2" fill="#7d7d7d"/>
<rect x="277.9" y="312.7" width="4.0" height="1.0" fill="#545454"/>
<rect x="277.9" y="314.7" width="2.7" height="0.9" fill="#474747"/>
<rect x="277.9" y="316.3" width="3.0" height="0.9" fill="#4c4c4c"/>
<rect x="277.9" y="317.8" width="2.8" height="1.2" fill="#777777"/>
<rect x="277.9" y="319.6" width="3.8" height="1.3" fill="#454545"/>
<rect x="277.9" y="321.3" width="3.1" height="1.2" fill="#6f6f6f"/>
<rect x="277.9" y="322.9" width="3.0" height="0.9" fill="#414141"/>
<rect x="277.9" y="324.2" width="3.4" height="1.5" fill="#737373"/>
<rect x="277.9" y="326.1" width="3.7" height="1.3" fill="#6b6b6b"/>
<rect x="277.9" y="327.9" width="3.7" height="1.5" fill="#545454"/>
<rect x="277.9" y="330.0" width="3.7" height="1.5" fill="#6f6f6f"/>
<rect x="277.9" y="332.3" width="2.6" height="1.1" fill="#575757"/>
<rect x="277.9" y="334.0" width="3.8" height="1.2" fill="#414141"/>
<rect x="277.9" y="336.2" width="2.8" height="1.5" fill="#464646"/>
<rect x="277.9" y="338.6" width="2.8" height="1.3" fill="#6b6b6b"/>
<rect x="277.9" y="340.6" width="3.1" height="0.9" fill="#494949"/>
<rect x="277.9" y="342.5" width="3.6" height="1.3" fill="#4f4f4f"/>
<rect x="277.9" y="344.8" width="3.6" height="0.8" fill="#4d4d4d"/>
<rect x="277.9" y="346.1" width="3.6" height="1.1" fill="#464646"/>
<rect x="277.9" y="348.0" width="2.9" height="0.8" fill="#616161"/>
<rect x="277.9" y="349.7" width="4.0" height="1.2" fill="#757575"/>
<rect x="277.9" y="351.7" width="3.7" height="1.6" fill="#787878"/>
<rect x="277.9" y="353.6" width="3.1" height="1.3" fill="#454545"/>
<rect x="277.9" y="355.8" width="3.8" height="1.1" fill="#555555"/>
<rect x="277.9" y="357.6" width="3.9" height="1.3" fill="#767676"/>
<rect x="277.9" y="359.5" width="3.0" height="1.2" fill="#676767"/>
<rect x="277.9" y="361.2" width="3.5" height="1.3" fill="#646464"/>
<rect x="277.9" y="363.4" width="3.4" height="0.8" fill="#5f5f5f"/>
<rect x="277.9" y="364.9" width="2.6" height="1.1" fill="#717171"/>
<rect x="277.9" y="366.6" width="2.6" height="1.1" fill="#686868"/>
<rect x="277.9" y="368.6" width="2.9" height="1.1" fill="#7d7d7d"/>
<rect x="277.9" y="370.6" width="3.9" height="0.8" fill="#4c4c4c"/>
<rect x="277.9" y="372.2" width="3.4" height="1.2" fill="#5f5f5f"/>
<rect x="277.9" y="373.8" width="2.7" height="1.3" fill="#7a7a7a"/>
<rect x="277.9" y="376.0" width="2.7" height="1.1" fill="#535353"/>
<rect x="277.9" y="377.7" width="3.4" height="1.3" fill="#7a7a7a"/>
<rect x="277.9" y="379.8" width="3.7" height="1.3" fill="#6e6e6e"/>
<rect x="277.9" y="381.8" width="3.6" height="1.6" fill="#656565"/>
<rect x="277.9" y="383.9" width="3.7" height="0.9" fill="#676767"/>
<rect x="277.9" y="385.5" width="3.4" height="1.1" fill="#626262"/>
<text x="91.94" y="390.80" font-size="15.6" font-weight="normal" text-anchor="start" transform="rotate(90 91.94 390.8)" fill="#000" stroke="#000" stroke-width="0.35">Control3</text>
<text x="123.01" y="390.80" font-size="15.6" font-weight="normal" text-anchor="start" transform="rotate(90 123.01 390.8)" fill="#000" stroke="#000" stroke-width="0.35">Control1</text>
<text x="154.08" y="390.80" font-size="15.6" font-weight="normal" text-anchor="start" transform="rotate(90 154.08 390.8)" fill="#000" stroke="#000" stroke-width="0.35">Control2</text>
<text x="185.15" y="390.80" font-size="15.6" font-weight="normal" text-anchor="start" transform="rotate(90 185.15 390.8)" fill="#000" stroke="#000" stroke-width="0.35">NC3</text>
<text x="216.22" y="390.80" font-size="15.6" font-weight="normal" text-anchor="start" transform="rotate(90 216.22 390.8)" fill="#000" stroke="#000" stroke-width="0.35">NC1</text>
<text x="247.28" y="390.80" font-size="15.6" font-weight="normal" text-anchor="start" transform="rotate(90 247.28 390.8)" fill="#000" stroke="#000" stroke-width="0.35">NC2</text>
<path d="M122.6,33 V1.5 H215.5 V20 M99.5,83 V33 H145.4 V46 M130.6,83 V46 H161.7 V83 M192.8,83 V20 H239.1 V33 M223.8,83 V33 H254.9 V83" stroke="#000" stroke-width="1.5" fill="none"/>
<path d="M32.1,155.8 H1.5 V246.2 H8.1 M32.1,131.5 V179.5 M76.5,131.5 H32.1 M32.1,179.5 H35.5 M35.5,164.7 V194 M78.4,164.7 H35.5 M35.5,194 H49.3 M49.3,185.8 V201.7 M77.5,185.8 H49.3 M77,201.7 H49.3 M70.3,209.5 H8.1 V284 H32.1 M32.1,230.3 V338.4 M75.3,230.3 H32.1 M32.1,338.4 H34.3 M34.3,315.5 V361.7 M76.2,315.5 H34.3 M34.3,361.7 H49.3 M49.3,347.6 V375.1 M78,347.6 H49.3 M77,375.1 H49.3" stroke="#000" stroke-width="1.5" fill="none"/>
<path d="M83.2,107.6V108.8M83.2,107.6H84.0M83.2,108.8H84.0M82.9,106.5V108.2M82.9,106.5H84.0M82.9,108.2H83.2M83.7,111.0V111.9M83.7,111.0H84.0M83.7,111.9H84.0M83.0,110.1V111.5M83.0,110.1H84.0M83.0,111.5H83.7M82.6,107.4V110.8M82.6,107.4H82.9M82.6,110.8H83.0M83.3,113.2V114.4M83.3,113.2H84.0M83.3,114.4H84.0M83.6,115.7V117.0M83.6,115.7H84.0M83.6,117.0H84.0M83.0,113.8V116.3M83.0,113.8H83.3M83.0,116.3H83.6M82.0,109.1V115.1M82.0,109.1H82.6M82.0,115.1H83.0M83.7,119.4V120.5M83.7,119.4H84.0M83.7,120.5H84.0M83.2,118.2V120.0M83.2,118.2H84.0M83.2,120.0H83.7M83.7,123.1V124.0M83.7,123.1H84.0M83.7,124.0H84.0M83.3,122.0V123.6M83.3,122.0H84.0M83.3,123.6H83.7M83.7,126.5V127.5M83.7,126.5H84.0M83.7,127.5H84.0M83.4,125.2V127.0M83.4,125.2H84.0M83.4,127.0H83.7M83.0,122.8V126.1M83.0,122.8H83.3M83.0,126.1H83.4M82.1,119.1V124.4M82.1,119.1H83.2M82.1,124.4H83.0M83.4,128.2V129.1M83.4,128.2H84.0M83.4,129.1H84.0M83.1,128.7V130.2M83.1,128.7H83.4M83.1,130.2H84.0M83.2,131.6V132.9M83.2,131.6H84.0M83.2,132.9H84.0M82.4,132.2V134.2M82.4,132.2H83.2M82.4,134.2H84.0M81.7,129.4V133.2M81.7,129.4H83.1M81.7,133.2H82.4M80.9,121.7V131.3M80.9,121.7H82.1M80.9,131.3H81.7M78.6,112.1V126.5M78.6,112.1H82.0M78.6,126.5H80.9M83.6,136.5V137.4M83.6,136.5H84.0M83.6,137.4H84.0M83.2,137.0V138.4M83.2,137.0H83.6M83.2,138.4H84.0M82.6,135.5V137.7M82.6,135.5H84.0M82.6,137.7H83.2M83.8,140.7V141.5M83.8,140.7H84.0M83.8,141.5H84.0M83.5,141.1V142.5M83.5,141.1H83.8M83.5,142.5H84.0M83.2,139.7V141.8M83.2,139.7H84.0M83.2,141.8H83.5M82.2,136.6V140.8M82.2,136.6H82.6M82.2,140.8H83.2M83.3,143.5V144.5M83.3,143.5H84.0M83.3,144.5H84.0M83.4,145.5V146.4M83.4,145.5H84.0M83.4,146.4H84.0M83.0,144.0V146.0M83.0,144.0H83.3M83.0,146.0H83.4M83.6,147.3V148.2M83.6,147.3H84.0M83.6,148.2H84.0M83.4,147.8V149.3M83.4,147.8H83.6M83.4,149.3H84.0M83.7,150.4V151.3M83.7,150.4H84.0M83.7,151.3H84.0M83.6,152.4V153.3M83.6,152.4H84.0M83.6,153.3H84.0M83.4,150.9V152.9M83.4,150.9H83.7M83.4,152.9H83.6M83.3,154.1V155.2M83.3,154.1H84.0M83.3,155.2H84.0M83.1,151.9V154.6M83.1,151.9H83.4M83.1,154.6H83.3M82.5,148.6V153.3M82.5,148.6H83.4M82.5,153.3H83.1M81.6,145.0V150.9M81.6,145.0H83.0M81.6,150.9H82.5M78.9,138.7V147.9M78.9,138.7H82.2M78.9,147.9H81.6M76.5,119.3V143.3M76.5,119.3H78.6M76.5,143.3H78.9M81.7,156.4V157.4M81.7,156.4H84.0M81.7,157.4H84.0M80.7,156.9V158.3M80.7,156.9H81.7M80.7,158.3H84.0M83.4,159.2V160.3M83.4,159.2H84.0M83.4,160.3H84.0M83.0,159.8V161.4M83.0,159.8H83.4M83.0,161.4H84.0M83.5,162.6V163.8M83.5,162.6H84.0M83.5,163.8H84.0M82.9,163.2V165.1M82.9,163.2H83.5M82.9,165.1H84.0M82.3,160.6V164.1M82.3,160.6H83.0M82.3,164.1H82.9M79.6,157.6V162.4M79.6,157.6H80.7M79.6,162.4H82.3M82.7,166.2V167.1M82.7,166.2H84.0M82.7,167.1H84.0M82.7,168.2V169.0M82.7,168.2H84.0M82.7,169.0H84.0M81.7,166.6V168.6M81.7,166.6H82.7M81.7,168.6H82.7M83.3,169.8V170.7M83.3,169.8H84.0M83.3,170.7H84.0M83.6,171.8V172.8M83.6,171.8H84.0M83.6,172.8H84.0M82.9,170.3V172.3M82.9,170.3H83.3M82.9,172.3H83.6M83.2,173.5V174.4M83.2,173.5H84.0M83.2,174.4H84.0M82.1,171.3V173.9M82.1,171.3H82.9M82.1,173.9H83.2M80.4,167.6V172.6M80.4,167.6H81.7M80.4,172.6H82.1M78.4,160.0V170.1M78.4,160.0H79.6M78.4,170.1H80.4M83.8,176.7V177.7M83.8,176.7H84.0M83.8,177.7H84.0M83.6,175.6V177.2M83.6,175.6H84.0M83.6,177.2H83.8M83.3,178.7V179.6M83.3,178.7H84.0M83.3,179.6H84.0M82.9,176.4V179.2M82.9,176.4H83.6M82.9,179.2H83.3M83.7,180.3V181.2M83.7,180.3H84.0M83.7,181.2H84.0M83.8,184.0V185.3M83.8,184.0H84.0M83.8,185.3H84.0M83.6,182.6V184.7M83.6,182.6H84.0M83.6,184.7H83.8M83.4,180.8V183.6M83.4,180.8H83.7M83.4,183.6H83.6M83.6,188.1V189.5M83.6,188.1H84.0M83.6,189.5H84.0M83.3,186.7V188.8M83.3,186.7H84.0M83.3,188.8H83.6M82.8,182.2V187.7M82.8,182.2H83.4M82.8,187.7H83.3M81.1,177.8V185.0M81.1,177.8H82.9M81.1,185.0H82.8M82.9,190.6V191.4M82.9,190.6H84.0M82.9,191.4H84.0M83.1,192.2V193.1M83.1,192.2H84.0M83.1,193.1H84.0M82.6,191.0V192.7M82.6,191.0H82.9M82.6,192.7H83.1M83.7,195.8V197.2M83.7,195.8H84.0M83.7,197.2H84.0M83.4,194.3V196.5M83.4,194.3H84.0M83.4,196.5H83.7M83.0,198.1V198.9M83.0,198.1H84.0M83.0,198.9H84.0M82.7,195.4V198.5M82.7,195.4H83.4M82.7,198.5H83.0M81.1,191.8V196.9M81.1,191.8H82.6M81.1,196.9H82.7M77.5,181.4V194.4M77.5,181.4H81.1M77.5,194.4H81.1M82.3,201.6V202.8M82.3,201.6H84.0M82.3,202.8H84.0M79.9,200.2V202.2M79.9,200.2H84.0M79.9,202.2H82.3M82.2,204.8V205.7M82.2,204.8H84.0M82.2,205.7H84.0M79.3,203.8V205.2M79.3,203.8H84.0M79.3,205.2H82.2M77.0,201.2V204.5M77.0,201.2H79.9M77.0,204.5H79.3M76.2,206.3V207.2M76.2,206.3H84.0M76.2,207.2H84.0M77.1,208.1V209.1M77.1,208.1H84.0M77.1,209.1H84.0M73.6,206.7V208.6M73.6,206.7H76.2M73.6,208.6H77.1M76.7,210.0V210.9M76.7,210.0H84.0M76.7,210.9H84.0M74.2,210.5V212.2M74.2,210.5H76.7M74.2,212.2H84.0M70.3,207.7V211.4M70.3,207.7H73.6M70.3,211.4H74.2M83.7,213.6V214.4M83.7,213.6H84.0M83.7,214.4H84.0M83.7,215.0V215.8M83.7,215.0H84.0M83.7,215.8H84.0M83.6,215.4V216.9M83.6,215.4H83.7M83.6,216.9H84.0M83.3,214.0V216.1M83.3,214.0H83.7M83.3,216.1H83.6M83.3,218.0V219.2M83.3,218.0H84.0M83.3,219.2H84.0M83.0,215.1V218.6M83.0,215.1H83.3M83.0,218.6H83.3M83.6,220.3V221.3M83.6,220.3H84.0M83.6,221.3H84.0M83.5,222.6V223.8M83.5,222.6H84.0M83.5,223.8H84.0M83.4,220.8V223.2M83.4,220.8H83.6M83.4,223.2H83.5M82.5,216.8V222.0M82.5,216.8H83.0M82.5,222.0H83.4M83.8,224.9V226.1M83.8,224.9H84.0M83.8,226.1H84.0M83.7,225.5V227.2M83.7,225.5H83.8M83.7,227.2H84.0M83.5,228.2V229.0M83.5,228.2H84.0M83.5,229.0H84.0M83.0,226.3V228.6M83.0,226.3H83.7M83.0,228.6H83.5M83.5,230.0V230.9M83.5,230.0H84.0M83.5,230.9H84.0M83.5,232.9V233.9M83.5,232.9H84.0M83.5,233.9H84.0M83.1,231.9V233.4M83.1,231.9H84.0M83.1,233.4H83.5M82.7,230.5V232.6M82.7,230.5H83.5M82.7,232.6H83.1M82.2,227.5V231.5M82.2,227.5H83.0M82.2,231.5H82.7M83.9,235.0V235.9M83.9,235.0H84.0M83.9,235.9H84.0M83.8,235.4V237.0M83.8,235.4H83.9M83.8,237.0H84.0M83.9,238.0V239.1M83.9,238.0H84.0M83.9,239.1H84.0M83.7,238.6V240.4M83.7,238.6H83.9M83.7,240.4H84.0M83.7,241.8V242.8M83.7,241.8H84.0M83.7,242.8H84.0M83.6,239.5V242.3M83.6,239.5H83.7M83.6,242.3H83.7M83.5,236.2V240.9M83.5,236.2H83.8M83.5,240.9H83.6M83.5,244.8V246.0M83.5,244.8H84.0M83.5,246.0H84.0M83.4,243.7V245.4M83.4,243.7H84.0M83.4,245.4H83.5M83.5,247.1V248.2M83.5,247.1H84.0M83.5,248.2H84.0M83.1,244.5V247.7M83.1,244.5H83.4M83.1,247.7H83.5M82.7,238.6V246.1M82.7,238.6H83.5M82.7,246.1H83.1M81.5,229.5V242.3M81.5,229.5H82.2M81.5,242.3H82.7M79.8,219.4V235.9M79.8,219.4H82.5M79.8,235.9H81.5M83.7,249.4V250.2M83.7,249.4H84.0M83.7,250.2H84.0M83.6,249.8V251.0M83.6,249.8H83.7M83.6,251.0H84.0M83.5,251.8V252.9M83.5,251.8H84.0M83.5,252.9H84.0M83.3,250.4V252.3M83.3,250.4H83.6M83.3,252.3H83.5M83.7,254.1V255.1M83.7,254.1H84.0M83.7,255.1H84.0M83.6,254.6V256.2M83.6,254.6H83.7M83.6,256.2H84.0M83.8,257.1V258.0M83.8,257.1H84.0M83.8,258.0H84.0M83.4,257.5V259.1M83.4,257.5H83.8M83.4,259.1H84.0M83.3,255.4V258.3M83.3,255.4H83.6M83.3,258.3H83.4M82.2,251.4V256.9M82.2,251.4H83.3M82.2,256.9H83.3M83.7,260.5V261.9M83.7,260.5H84.0M83.7,261.9H84.0M83.9,262.8V263.6M83.9,262.8H84.0M83.9,263.6H84.0M83.9,264.5V265.6M83.9,264.5H84.0M83.9,265.6H84.0M83.8,263.2V265.1M83.8,263.2H83.9M83.8,265.1H83.9M83.8,266.5V267.3M83.8,266.5H84.0M83.8,267.3H84.0M83.5,264.1V266.9M83.5,264.1H83.8M83.5,266.9H83.8M83.1,261.2V265.5M83.1,261.2H83.7M83.1,265.5H83.5M83.1,268.2V269.3M83.1,268.2H84.0M83.1,269.3H84.0M83.3,270.5V271.7M83.3,270.5H84.0M83.3,271.7H84.0M82.6,268.7V271.1M82.6,268.7H83.1M82.6,271.1H83.3M81.6,263.4V269.9M81.6,263.4H83.1M81.6,269.9H82.6M80.9,254.1V266.6M80.9,254.1H82.2M80.9,266.6H81.6M83.6,274.2V275.1M83.6,274.2H84.0M83.6,275.1H84.0M83.4,274.7V275.9M83.4,274.7H83.6M83.4,275.9H84.0M82.7,273.0V275.3M82.7,273.0H84.0M82.7,275.3H83.4M83.5,277.2V278.6M83.5,277.2H84.0M83.5,278.6H84.0M82.7,277.9V280.0M82.7,277.9H83.5M82.7,280.0H84.0M82.0,274.2V278.9M82.0,274.2H82.7M82.0,278.9H82.7M83.3,281.5V282.6M83.3,281.5H84.0M83.3,282.6H84.0M82.7,282.0V283.5M82.7,282.0H83.3M82.7,283.5H84.0M83.5,285.9V286.7M83.5,285.9H84.0M83.5,286.7H84.0M83.3,284.7V286.3M83.3,284.7H84.0M83.3,286.3H83.5M82.1,282.7V285.5M82.1,282.7H82.7M82.1,285.5H83.3M81.1,276.5V284.1M81.1,276.5H82.0M81.1,284.1H82.1M77.4,260.4V280.3M77.4,260.4H80.9M77.4,280.3H81.1M75.3,227.7V270.4M75.3,227.7H79.8M75.3,270.4H77.4M83.7,287.3V288.1M83.7,287.3H84.0M83.7,288.1H84.0M83.2,287.7V289.4M83.2,287.7H83.7M83.2,289.4H84.0M82.9,290.8V291.8M82.9,290.8H84.0M82.9,291.8H84.0M82.5,288.6V291.3M82.5,288.6H83.2M82.5,291.3H82.9M83.4,293.8V295.0M83.4,293.8H84.0M83.4,295.0H84.0M82.9,292.7V294.4M82.9,292.7H84.0M82.9,294.4H83.4M83.4,296.3V297.1M83.4,296.3H84.0M83.4,297.1H84.0M82.5,293.6V296.7M82.5,293.6H82.9M82.5,296.7H83.4M81.8,289.9V295.1M81.8,289.9H82.5M81.8,295.1H82.5M83.5,297.9V298.7M83.5,297.9H84.0M83.5,298.7H84.0M83.5,299.6V300.6M83.5,299.6H84.0M83.5,300.6H84.0M83.4,300.1V301.4M83.4,300.1H83.5M83.4,301.4H84.0M82.8,298.3V300.7M82.8,298.3H83.5M82.8,300.7H83.4M83.3,302.7V304.2M83.3,302.7H84.0M83.3,304.2H84.0M82.5,299.5V303.5M82.5,299.5H82.8M82.5,303.5H83.3M80.8,292.5V301.5M80.8,292.5H81.8M80.8,301.5H82.5M83.7,305.6V306.8M83.7,305.6H84.0M83.7,306.8H84.0M83.5,307.7V308.6M83.5,307.7H84.0M83.5,308.6H84.0M83.3,306.2V308.1M83.3,306.2H83.7M83.3,308.1H83.5M83.7,310.5V311.5M83.7,310.5H84.0M83.7,311.5H84.0M83.1,309.5V311.0M83.1,309.5H84.0M83.1,311.0H83.7M82.7,307.2V310.3M82.7,307.2H83.3M82.7,310.3H83.1M83.5,312.5V313.4M83.5,312.5H84.0M83.5,313.4H84.0M83.4,312.9V314.5M83.4,312.9H83.5M83.4,314.5H84.0M83.5,315.5V316.3M83.5,315.5H84.0M83.5,316.3H84.0M83.0,313.7V315.9M83.0,313.7H83.4M83.0,315.9H83.5M82.3,308.7V314.8M82.3,308.7H82.7M82.3,314.8H83.0M83.7,317.3V318.4M83.7,317.3H84.0M83.7,318.4H84.0M83.2,317.8V319.7M83.2,317.8H83.7M83.2,319.7H84.0M83.5,320.9V321.9M83.5,320.9H84.0M83.5,321.9H84.0M83.6,322.8V323.9M83.6,322.8H84.0M83.6,323.9H84.0M83.3,321.4V323.3M83.3,321.4H83.5M83.3,323.3H83.6M82.4,318.7V322.4M82.4,318.7H83.2M82.4,322.4H83.3M81.0,311.8V320.5M81.0,311.8H82.3M81.0,320.5H82.4M83.9,325.6V326.4M83.9,325.6H84.0M83.9,326.4H84.0M83.8,324.9V326.0M83.8,324.9H84.0M83.8,326.0H83.9M83.9,327.5V328.3M83.9,327.5H84.0M83.9,328.3H84.0M83.6,325.5V327.9M83.6,325.5H83.8M83.6,327.9H83.9M83.4,329.3V330.7M83.4,329.3H84.0M83.4,330.7H84.0M83.2,326.7V330.0M83.2,326.7H83.6M83.2,330.0H83.4M82.8,331.7V332.7M82.8,331.7H84.0M82.8,332.7H84.0M83.8,334.7V335.5M83.8,334.7H84.0M83.8,335.5H84.0M83.4,333.8V335.1M83.4,333.8H84.0M83.4,335.1H83.8M82.5,332.2V334.5M82.5,332.2H82.8M82.5,334.5H83.4M81.9,328.3V333.3M81.9,328.3H83.2M81.9,333.3H82.5M78.2,316.2V330.8M78.2,316.2H81.0M78.2,330.8H81.9M76.2,297.0V323.5M76.2,297.0H80.8M76.2,323.5H78.2M83.7,336.5V337.6M83.7,336.5H84.0M83.7,337.6H84.0M83.8,338.7V339.7M83.8,338.7H84.0M83.8,339.7H84.0M83.6,339.2V340.9M83.6,339.2H83.8M83.6,340.9H84.0M83.5,337.0V340.0M83.5,337.0H83.7M83.5,340.0H83.6M83.9,341.9V343.0M83.9,341.9H84.0M83.9,343.0H84.0M83.9,344.4V345.6M83.9,344.4H84.0M83.9,345.6H84.0M83.8,342.4V345.0M83.8,342.4H83.9M83.8,345.0H83.9M83.8,346.6V347.8M83.8,346.6H84.0M83.8,347.8H84.0M83.8,349.2V350.4M83.8,349.2H84.0M83.8,350.4H84.0M83.7,347.2V349.8M83.7,347.2H83.8M83.7,349.8H83.8M83.6,343.7V348.5M83.6,343.7H83.8M83.6,348.5H83.7M82.9,338.5V346.1M82.9,338.5H83.5M82.9,346.1H83.6M83.8,351.5V352.5M83.8,351.5H84.0M83.8,352.5H84.0M83.5,352.0V353.4M83.5,352.0H83.8M83.5,353.4H84.0M83.6,354.6V356.1M83.6,354.6H84.0M83.6,356.1H84.0M83.2,355.3V357.5M83.2,355.3H83.6M83.2,357.5H84.0M82.9,352.7V356.4M82.9,352.7H83.5M82.9,356.4H83.2M81.2,342.3V354.6M81.2,342.3H82.9M81.2,354.6H82.9M82.6,358.9V360.0M82.6,358.9H84.0M82.6,360.0H84.0M82.8,361.2V362.5M82.8,361.2H84.0M82.8,362.5H84.0M81.6,359.5V361.9M81.6,359.5H82.6M81.6,361.9H82.8M83.2,364.6V365.6M83.2,364.6H84.0M83.2,365.6H84.0M82.7,363.8V365.1M82.7,363.8H84.0M82.7,365.1H83.2M82.6,366.6V367.4M82.6,366.6H84.0M82.6,367.4H84.0M81.7,364.4V367.0M81.7,364.4H82.7M81.7,367.0H82.6M80.7,360.7V365.7M80.7,360.7H81.6M80.7,365.7H81.7M78.0,347.6V363.2M78.0,348.4H81.2M78.0,363.2H80.7M83.0,370.0V371.2M83.0,370.0H84.0M83.0,371.2H84.0M82.5,368.6V370.6M82.5,368.6H84.0M82.5,370.6H83.0M82.2,372.0V373.0M82.2,372.0H84.0M82.2,373.0H84.0M81.2,369.6V372.5M81.2,369.6H82.5M81.2,372.5H82.2M81.1,374.2V375.5M81.1,374.2H84.0M81.1,375.5H84.0M79.7,374.9V376.9M79.7,374.9H81.1M79.7,376.9H84.0M78.4,371.1V375.9M78.4,371.1H81.2M78.4,375.9H79.7M83.4,378.2V379.1M83.4,378.2H84.0M83.4,379.1H84.0M83.0,378.6V380.0M83.0,378.6H83.4M83.0,380.0H84.0M83.4,381.2V382.2M83.4,381.2H84.0M83.4,382.2H84.0M83.2,381.7V383.0M83.2,381.7H83.4M83.2,383.0H84.0M81.9,379.3V382.4M81.9,379.3H83.0M81.9,382.4H83.2M83.2,383.9V384.7M83.2,383.9H84.0M83.2,384.7H84.0M83.0,384.3V385.6M83.0,384.3H83.2M83.0,385.6H84.0M82.5,384.9V386.7M82.5,384.9H83.0M82.5,386.7H84.0M80.8,380.9V385.8M80.8,380.9H81.9M80.8,385.8H82.5M77.0,373.5V383.3M77.0,373.5H78.4M77.0,383.3H80.8" stroke="#000" stroke-width="1.05" fill="none"/>
<rect x="82.60" y="106.00" width="1.40" height="282.00" fill="#222"/>
<defs><linearGradient id="cb" x1="0" y1="1" x2="0" y2="0"><stop offset="0" stop-color="#87ceeb"/><stop offset="0.5" stop-color="#ffffff"/><stop offset="1" stop-color="#ff0000"/></linearGradient></defs>
<rect x="326.40" y="83.50" width="15.60" height="236.20" fill="url(#cb)"/>
<text x="348.80" y="326.10" font-size="15.4" font-weight="normal" text-anchor="start" fill="#000" stroke="#000" stroke-width="0.35">0</text>
<text x="348.80" y="291.17" font-size="15.4" font-weight="normal" text-anchor="start" fill="#000" stroke="#000" stroke-width="0.35">2</text>
<text x="348.80" y="256.24" font-size="15.4" font-weight="normal" text-anchor="start" fill="#000" stroke="#000" stroke-width="0.35">4</text>
<text x="348.80" y="221.31" font-size="15.4" font-weight="normal" text-anchor="start" fill="#000" stroke="#000" stroke-width="0.35">6</text>
<text x="348.80" y="186.38" font-size="15.4" font-weight="normal" text-anchor="start" fill="#000" stroke="#000" stroke-width="0.35">8</text>
<text x="348.80" y="151.45" font-size="15.4" font-weight="normal" text-anchor="start" fill="#000" stroke="#000" stroke-width="0.35">10</text>
<text x="348.80" y="116.52" font-size="15.4" font-weight="normal" text-anchor="start" fill="#000" stroke="#000" stroke-width="0.35">12</text>
<text x="371.50" y="95.40" font-size="15.9" font-weight="bold" text-anchor="start" fill="#000">Group</text>
<rect x="371.60" y="100.60" width="22.40" height="22.80" fill="#00d8e0"/>
<rect x="371.60" y="123.40" width="22.40" height="22.40" fill="#fa8a80"/>
<text x="396.20" y="117.80" font-size="15.6" font-weight="normal" text-anchor="start" fill="#000" stroke="#000" stroke-width="0.35">Control</text>
<text x="397.80" y="140.60" font-size="15.7" font-weight="normal" text-anchor="start" fill="#000" stroke="#000" stroke-width="0.35">NC</text>
<text x="-1.00" y="12.70" font-size="21" font-weight="normal" text-anchor="start" fill="#000" stroke="#000" stroke-width="0.35">a</text>
</svg></body></html>
